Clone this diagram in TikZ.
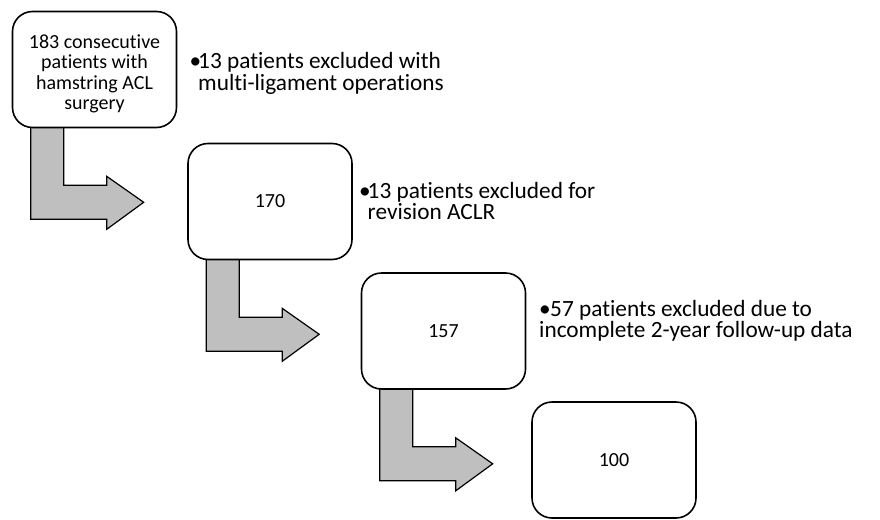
\documentclass[tikz,border=0pt]{standalone}
\usepackage{fontspec}
\setmainfont{Carlito}[Ligatures=NoCommon]
\usetikzlibrary{calc,backgrounds}
\definecolor{arrowgray}{HTML}{BFBFBF}

\begin{document}
\begin{tikzpicture}[x=1pt,y=-1pt,
  stage/.style={draw=black,line width=1.6pt,fill=white,rounded corners=20pt,
    minimum width=164pt,minimum height=116pt,align=center,inner sep=0pt,
    font=\fontsize{20}{20.5}\selectfont},
  note/.style={anchor=base west,align=left,inner sep=0pt,
    font=\fontsize{23.3}{21}\selectfont},
  flowarrow/.style={draw=black,line width=1.2pt,fill=arrowgray,line join=miter}]

\useasboundingbox (0,0) rectangle (880,519);

% stages:
\node[stage] (b1) at (94.5,69.5) {\raisebox{-5.5pt}[\height][\depth]{%
  \begin{tabular}{@{}c@{}}183 consecutive\\patients with\\hamstring ACL\\surgery\end{tabular}}};
\node[stage] (b2) at (270,201.5) {170};
\node[stage] (b3) at (443.5,331) {157};
\node[stage] (b4) at (614,460) {100};

% exclusions:
\node[note] (t1) at (189.5,90) {\makebox[8.5pt][l]{•}13 patients excluded with\\\hspace*{8.5pt}multi-ligament operations};
\node[note] (t2) at (359,219) {\makebox[8.5pt][l]{•}13 patients excluded for\\\hspace*{8.5pt}revision ACLR};
\node[note] (t3) at (539,337) {\makebox[11pt][l]{•}57 patients excluded due to\\incomplete 2-year follow-up data};

% bent arrows between stages:
\begin{scope}[on background layer]
\draw[flowarrow] ($(b1.south west)+(19,-3)$) -- ++(0,94) -- ++(76,0) -- ++(0,10)
  -- ++(37,-27) -- ++(-37,-26) -- ++(0,9) -- ++(-43,0) -- ++(0,-60) -- cycle;
\draw[flowarrow] ($(b2.south west)+(19,-3)$) -- ++(0,94) -- ++(76,0) -- ++(0,10)
  -- ++(37,-27) -- ++(-37,-26) -- ++(0,9) -- ++(-43,0) -- ++(0,-60) -- cycle;
\draw[flowarrow] ($(b3.south west)+(19,-3)$) -- ++(0,94) -- ++(76,0) -- ++(0,10)
  -- ++(37,-27) -- ++(-37,-26) -- ++(0,9) -- ++(-43,0) -- ++(0,-60) -- cycle;
\end{scope}

\end{tikzpicture}
\end{document}
